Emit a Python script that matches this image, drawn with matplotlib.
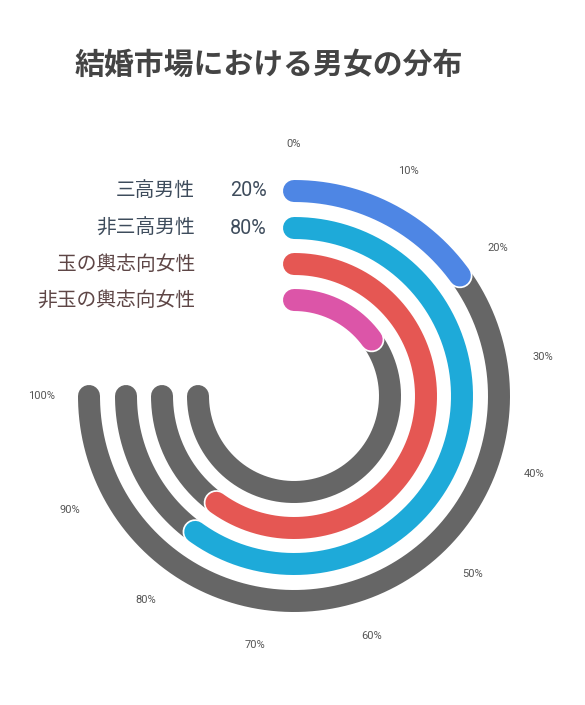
import numpy as np
import matplotlib
matplotlib.use('Agg')
import matplotlib.pyplot as plt
import matplotlib.patheffects as pe

plt.rcParams['font.family'] = ['Roboto', 'Noto Sans CJK JP', 'DejaVu Sans']

# データ
labels = ['三高男性', '非三高男性', '玉の輿志向女性', '非玉の輿志向女性']
values = [20, 80, 80, 20]
value_text = ['20%', '80%', '', '']
colors = ['#4e86e4', '#1eaad9', '#e55753', '#dc55a8']
label_colors = ['#3e4c5c', '#3e4c5c', '#5e4646', '#5e4646']
ticks = [0, 10, 20, 30, 40, 50, 60, 70, 80, 90, 100]
radii = [205, 168, 132, 96]

W, H = 585, 705
fig = plt.figure(figsize=(W / 100, H / 100), dpi=100)

cx, cy, R = 294, 396, 260
ax = fig.add_axes([(cx - R) / W, (H - cy - R) / H, 2 * R / W, 2 * R / H], polar=True)
ax.set_theta_zero_location('N')
ax.set_theta_direction(-1)
ax.set_ylim(0, R)
ax.set_xticks([])
ax.set_yticks([])
ax.grid(False)
ax.spines['polar'].set_visible(False)
ax.set_facecolor('none')

span = 1.5 * np.pi  # 100% = 270度
lw = 22 * 72 / 100

def frac(v):
    return v / 100 * span

# 背景トラック
for r in radii:
    th = np.linspace(0, span, 300)
    ax.plot(th, np.full_like(th, r), color='#666666', lw=lw, solid_capstyle='round')

# 値のバー
for r, v, c in zip(radii, values, colors):
    th = np.linspace(0, frac(v), 200)
    ax.plot(th, np.full_like(th, r), color=c, lw=lw, solid_capstyle='round',
            path_effects=[pe.Stroke(linewidth=lw + 2.5, foreground='white'), pe.Normal()])

# 目盛りラベル
for t in ticks:
    ax.text(frac(t), 252, f'{t}%', ha='center', va='center', fontsize=8, color='#555555')

# 凡例ラベル
for r, lab, vt, lc in zip(radii, labels, value_text, label_colors):
    ax.annotate(lab, xy=(0, r), xytext=(-99, 0), textcoords='offset pixels',
                ha='right', va='center', fontsize=14.2, color=lc)
    if vt:
        ax.annotate(vt, xy=(0, r), xytext=(-27, 0), textcoords='offset pixels',
                    ha='right', va='center', fontsize=14.2, color=lc)

fig.text(75 / W, 1 - 65 / H, '結婚市場における男女の分布', ha='left', va='center',
         fontsize=21.5, fontweight='bold', color='#444444', family=['Noto Sans CJK JP'])

fig.savefig('out.png', dpi=100)
